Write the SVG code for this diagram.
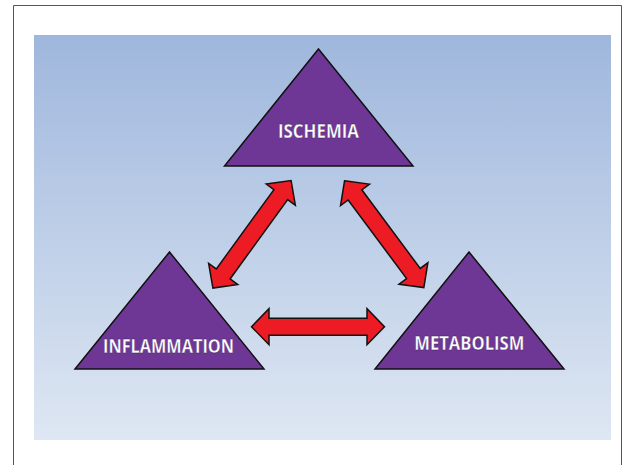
<svg xmlns="http://www.w3.org/2000/svg" width="632" height="465" viewBox="0 0 632 465">
<defs>
<linearGradient id="bg" x1="0" y1="0" x2="0" y2="1">
<stop offset="0" stop-color="#9fb7dd"/>
<stop offset="1" stop-color="#dee7f3"/>
</linearGradient>
<polygon id="dblarrow" points="-66.5,0 -49,-18 -49,-8.5 49,-8.5 49,-18 66.5,0 49,18 49,8.5 -49,8.5 -49,18"/>
</defs>
<style>
.tri{fill:#6f3795;stroke:#111;stroke-width:1.5;stroke-linejoin:miter}
.lbl{font-family:"Open Sans","Liberation Sans",sans-serif;font-weight:700;font-size:19px;fill:#fff;text-anchor:middle;stroke:#3a1a50;stroke-width:0.3}
.arr{fill:#ed1c24;stroke:#111;stroke-width:1.5;stroke-linejoin:miter}
</style>
<rect x="0" y="0" width="632" height="465" fill="#fff"/>
<path d="M13.5,466 V5.5 H621.5 V466" fill="none" stroke="#555" stroke-width="1"/>
<rect x="34" y="35" width="577" height="405" fill="url(#bg)"/>
<g id="connectors">
<use href="#dblarrow" class="arr" transform="translate(252,234.3) rotate(-54)"/>
<use href="#dblarrow" class="arr" transform="translate(384.2,234.2) rotate(53.4)"/>
<use href="#dblarrow" class="arr" transform="translate(318,326.7)"/>
</g>
<g id="ischemia">
<polygon class="tri" points="318.5,49 413,166 224.5,166"/>
<text class="lbl" x="318.5" y="138" textLength="81" lengthAdjust="spacingAndGlyphs">ISCHEMIA</text>
</g>
<g id="inflammation">
<polygon class="tri" points="169.5,252 264,369 75,369"/>
<text class="lbl" x="168.5" y="352.5" textLength="131" lengthAdjust="spacingAndGlyphs">INFLAMMATION</text>
</g>
<g id="metabolism">
<polygon class="tri" points="469,252 564,369 375,369"/>
<text class="lbl" x="469.3" y="349.5" textLength="110" lengthAdjust="spacingAndGlyphs">METABOLISM</text>
</g>
</svg>
